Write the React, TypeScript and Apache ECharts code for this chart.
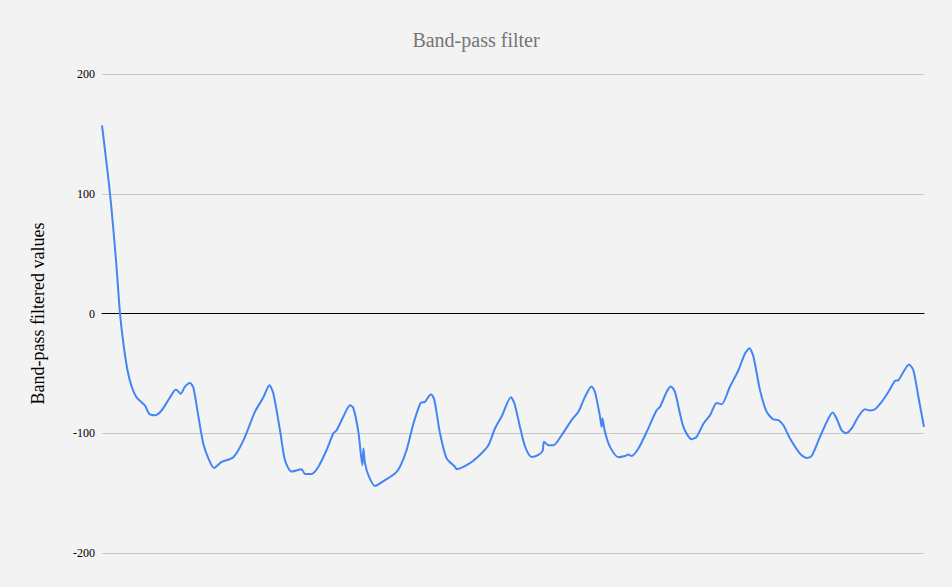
import React, { useEffect, useRef } from "react";
import * as echarts from "echarts";

const titleText = "Band-pass filter";
const yAxisName = "Band-pass filtered values";
const yTicks = [-200, -100, 0, 100, 200];

const sampleIndex = [
  0, 4, 7, 9, 10.7, 12.7, 14.8, 17.3, 21.5, 23.7, 26.5, 29.8, 34, 37, 39.3, 41.5, 44, 45.7, 48.2, 50.7,
  53.2, 56, 59.8, 65.7, 70.7, 76.5, 80.7, 83.7, 85.7, 89, 91.5, 94.8, 99.8, 101.5, 104.8, 108.2, 112.3,
  115.7, 117.3, 120.7, 124, 125.7, 128.2, 130.2, 130.7, 131.5, 133.2, 136.5, 140.7, 146.5, 149, 152.3,
  155.7, 159.3, 161.5, 163.2, 164.5, 166.2, 169, 172.3, 176.5, 177.3, 184, 189, 193.2, 196.5, 199.8,
  204.5, 206.2, 209, 211.5, 214.8, 218.2, 220.3, 221, 223.2, 225.7, 229.8, 234.8, 238.2, 241.5, 244.8,
  246.5, 249, 249.8, 250.2, 251.5, 254, 258.2, 261.5, 263.2, 264.8, 268.2, 272.3, 277.3, 279, 282.3,
  284.5, 286.5, 290.7, 294.8, 297.3, 300.7, 304, 307.3, 309.8, 314, 318.2, 321.5, 323.7, 325.7, 329,
  332.3, 335.7, 338.2, 340.7, 344, 349, 352.3, 354.8, 359, 363.2, 365.3, 367.3, 369.8, 372, 374.8, 378.2,
  381.5, 384, 386.5, 389.8, 393.2, 396.5, 398.2, 400.7, 403.5, 405.7, 408.2, 411,
];

const filteredValues = [
  157, 100, 44.5, 0, -25, -47, -61, -70, -77, -84, -85, -81, -70, -63.5, -67, -61, -58, -62, -86, -109,
  -121, -129, -124, -120, -106, -82, -70, -60, -67, -97.5, -122.6, -132, -130, -134, -134, -128, -114,
  -100, -97.5, -86, -76.6, -79, -99, -126.7, -112.8, -125, -135, -144, -140, -133.7, -128, -114,
  -92, -74.7, -73.8, -69.6, -67.4, -72.4, -100, -121, -128, -130, -125, -118, -110, -96, -86,
  -70, -75, -94.7, -111, -119.8, -118, -114.8, -107, -110, -110, -101.7, -89, -82, -69.6, -61,
  -65.5, -86, -94.7, -87.7, -99, -111.4, -120, -119, -117.8, -119, -112.8, -99, -80.8, -78, -65.5,
  -61, -65.5, -94.7, -105, -103, -92, -85, -74.7, -75.8, -61, -47.4, -33.4, -29, -36, -64,
  -82, -88.5, -89, -93.3, -104.4, -117, -120.6, -119, -103, -87.7, -82.7, -87.7, -97.5, -100, -96, -86,
  -80, -81, -80, -73.8, -65.5, -56.3, -55.7, -48.8, -42.6, -47.4, -69.7, -94.7,
];

const SERIF = "'Liberation Serif', 'DejaVu Serif', serif";

export default function App() {
  const ref = useRef<HTMLDivElement>(null);

  useEffect(() => {
    if (!ref.current) return;
    const chart = echarts.init(ref.current, undefined, { renderer: "svg" });
    const points = sampleIndex.map((x, i) => [x, filteredValues[i]]);
    chart.setOption({
      animation: false,
      backgroundColor: "#f3f3f3",
      textStyle: { fontFamily: SERIF },
      title: {
        text: titleText,
        left: "center",
        top: 25,
        textStyle: {
          fontFamily: SERIF,
          fontSize: 20,
          fontWeight: "normal",
          color: "#757575",
        },
      },
      grid: { left: 102, right: 28, top: 74, bottom: 34, containLabel: false },
      xAxis: {
        type: "value",
        min: 0,
        max: sampleIndex[sampleIndex.length - 1],
        axisLine: { show: true, onZero: true, lineStyle: { color: "#000", width: 1 } },
        axisTick: { show: false },
        axisLabel: { show: false },
        splitLine: { show: false },
      },
      yAxis: {
        type: "value",
        min: yTicks[0],
        max: yTicks[yTicks.length - 1],
        interval: 100,
        name: yAxisName,
        nameLocation: "middle",
        nameGap: 55,
        nameTextStyle: { fontFamily: SERIF, fontSize: 18, color: "#000" },
        axisLine: { show: false },
        axisTick: { show: false },
        axisLabel: { fontFamily: SERIF, fontSize: 12, color: "#000", margin: 7 },
        splitLine: { show: true, lineStyle: { color: "#c8c8c8", width: 1 } },
      },
      series: [
        {
          type: "line",
          data: points,
          showSymbol: false,
          smooth: 0.25,
          lineStyle: { color: "#4285f4", width: 2 },
          itemStyle: { color: "#4285f4" },
        },
      ],
    });
    return () => chart.dispose();
  }, []);

  return (
    <div
      ref={ref}
      style={{ position: "absolute", left: 0, top: 0, width: 952, height: 587 }}
    />
  );
}
